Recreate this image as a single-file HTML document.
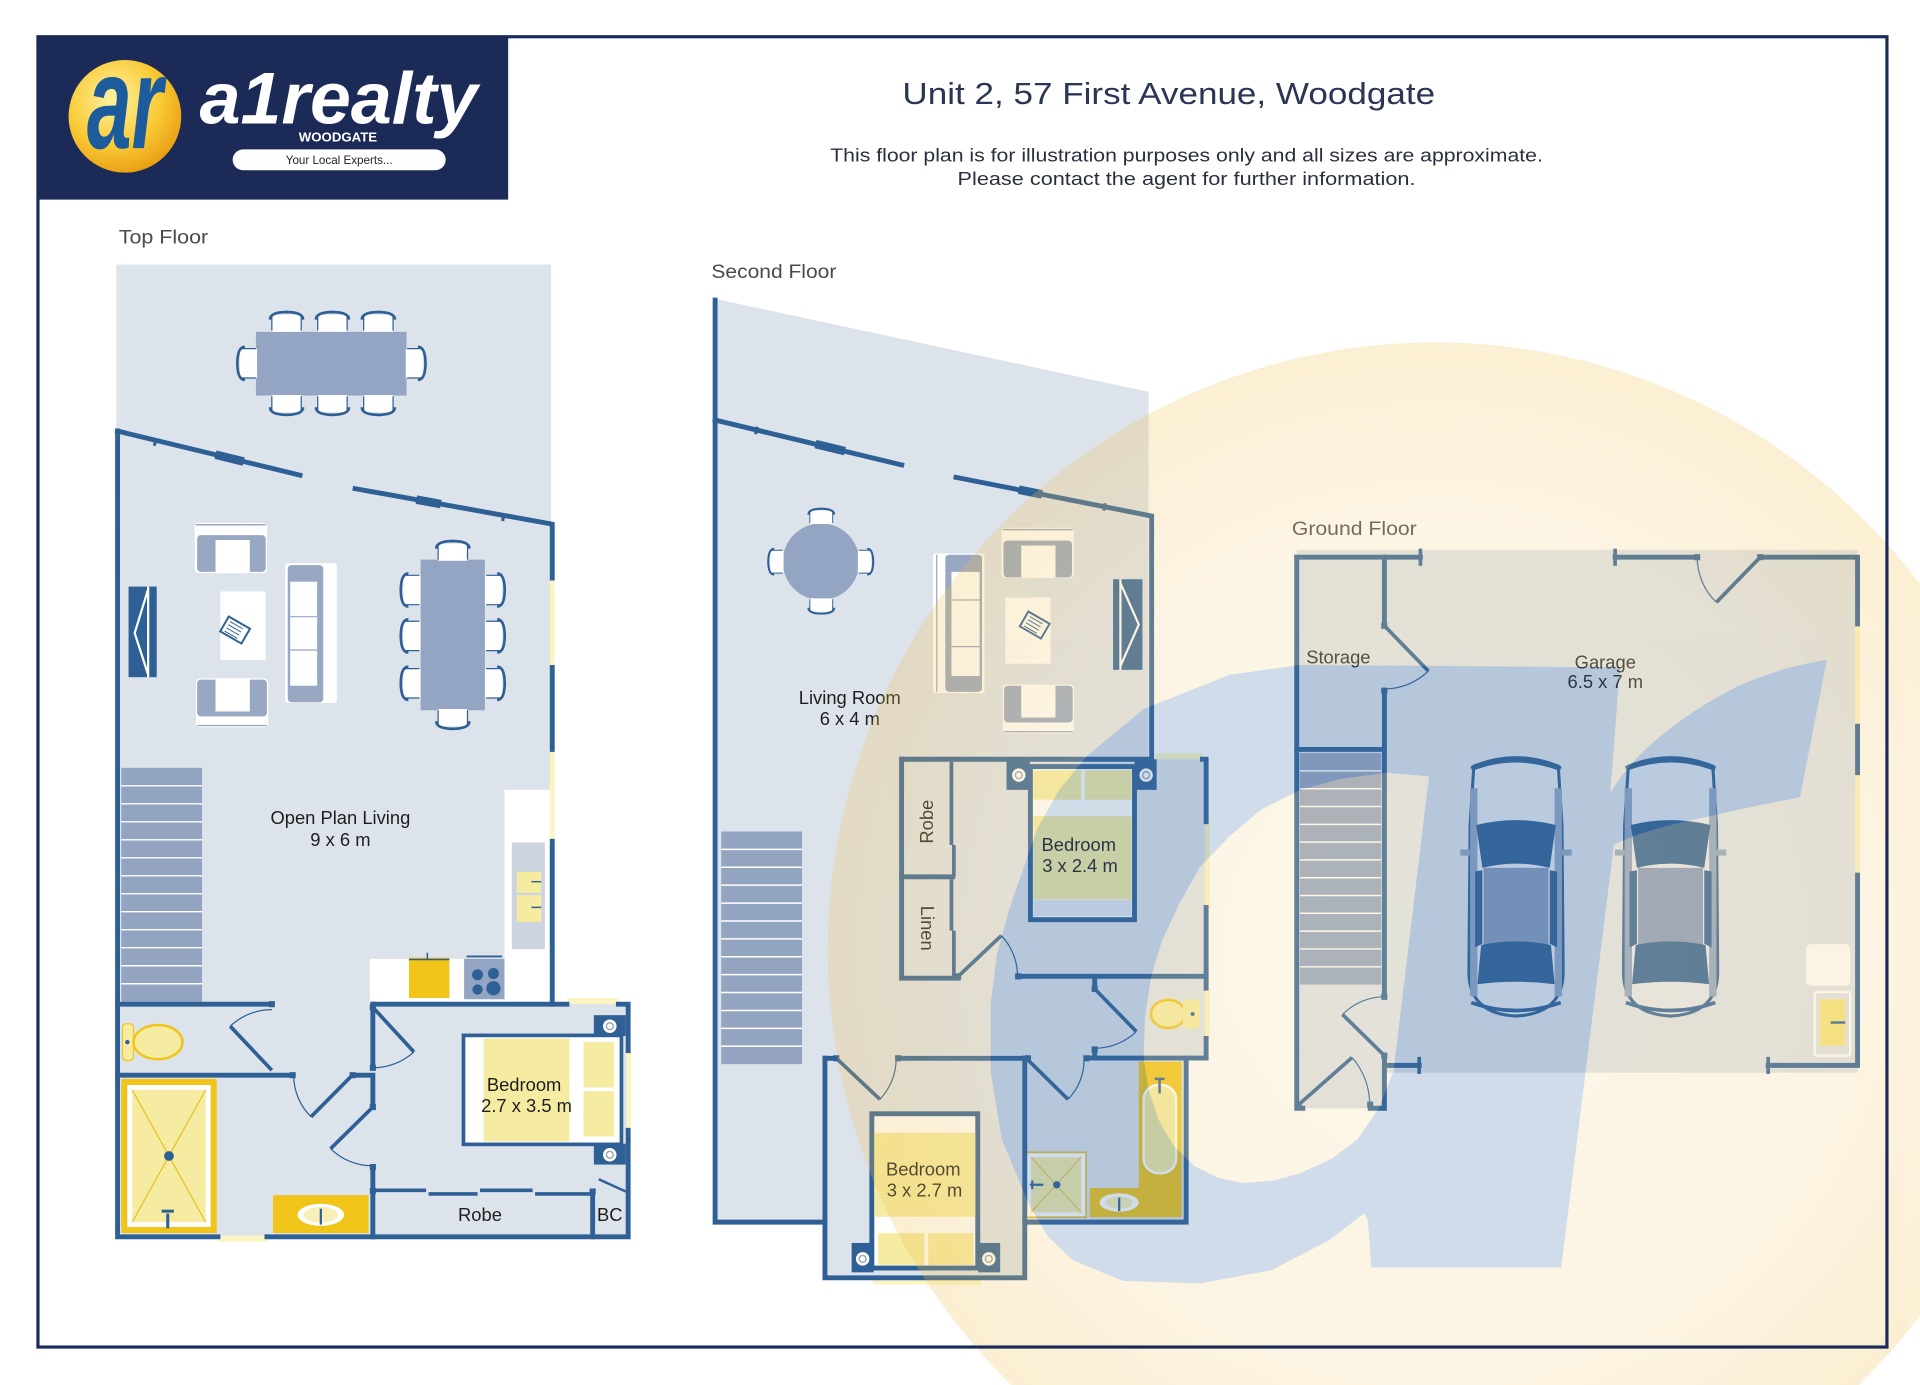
<!DOCTYPE html>
<html><head><meta charset="utf-8"><style>
html,body{margin:0;padding:0;background:#fff;width:1920px;height:1385px;overflow:hidden;}
svg{display:block;position:absolute;left:0;top:0}
text{font-family:"Liberation Sans",sans-serif}
</style></head><body>
<svg width="1920" height="1385" viewBox="0 0 1568 1131" preserveAspectRatio="none" xmlns="http://www.w3.org/2000/svg" overflow="hidden">
<defs>
<clipPath id="pg"><rect x="0" y="0" width="1568" height="1131"/></clipPath>
<radialGradient id="lg" cx="0.4" cy="0.35" r="0.7"><stop offset="0" stop-color="#fff3a0"/><stop offset="0.6" stop-color="#f9c935"/><stop offset="1" stop-color="#e89a10"/></radialGradient>
<radialGradient id="wg" gradientUnits="userSpaceOnUse" cx="1172" cy="776" r="496"><stop offset="0" stop-color="#f8e1aa"/><stop offset="0.7" stop-color="#f6d691"/><stop offset="1" stop-color="#f0be50"/></radialGradient>
<symbol id="ch" viewBox="0 0 30 18">
<rect x="3" y="4" width="24" height="14" fill="#fff"/>
<path d="M1.5,8 Q1.5,2 15,1.8 Q28.5,2 28.5,8" fill="none" stroke="#2e6096" stroke-width="2.2"/>
<path d="M3,4 V17 M27,4 V17" stroke="#2e6096" stroke-width="1"/>
</symbol>
<symbol id="car" viewBox="-6 -2 93 220">
<path d="M6,12 Q40.5,-2 75,12 L78,60 L79,180 Q79,214 40.5,216 Q2,214 2,180 L3,60 Z" fill="#e3e8f0" stroke="#2e6096" stroke-width="2.5"/>
<rect x="3" y="30" width="6" height="170" fill="#8ea3c3"/>
<rect x="72" y="30" width="6" height="170" fill="#8ea3c3"/>
<path d="M4,14 Q40.5,0 77,14" fill="none" stroke="#2e6096" stroke-width="4"/>
<path d="M8,60 Q40.5,52 73,60 L68,95 Q40.5,88 13,95 Z" fill="#2e6096"/>
<rect x="14" y="95" width="53" height="64" fill="#8499bd"/>
<path d="M12,158 Q40.5,152 69,158 L72,190 Q40.5,186 9,190 Z" fill="#2e6096"/>
<path d="M7,98 L13,97 L13,157 L7,160 Z M74,98 L68,97 L68,157 L74,160 Z" fill="#2e6096"/>
<rect x="-5" y="80" width="8" height="5" fill="#8ea3c3"/>
<rect x="78" y="80" width="8" height="5" fill="#8ea3c3"/>
<path d="M4,205 Q40.5,218 77,205" fill="none" stroke="#2e6096" stroke-width="3"/>
</symbol>
</defs>

<rect x="0" y="0" width="1568" height="1131" fill="#fff"/>

<!-- Header -->
<rect x="30" y="29" width="385" height="134" fill="#1b2a57"/>
<circle cx="102" cy="95" r="46" fill="url(#lg)"/>
<text x="102" y="121" font-size="108" font-weight="bold" font-style="italic" fill="#1c5b9c" text-anchor="middle" textLength="62" lengthAdjust="spacingAndGlyphs">ar</text>
<text x="163" y="101" font-size="60" font-weight="bold" font-style="italic" fill="#fff" textLength="227" lengthAdjust="spacingAndGlyphs">a1realty</text>
<text x="276" y="115.5" font-size="10.5" font-weight="bold" fill="#fff" text-anchor="middle" textLength="64" lengthAdjust="spacingAndGlyphs">WOODGATE</text>
<rect x="190" y="122" width="174" height="17" rx="8.5" fill="#fff"/>
<text x="277" y="134" font-size="9.5" fill="#222" text-anchor="middle">Your Local Experts...</text>

<text x="737" y="85" font-size="25" fill="#2a3654" textLength="435" lengthAdjust="spacingAndGlyphs">Unit 2, 57 First Avenue, Woodgate</text>
<text x="678" y="132" font-size="15" fill="#2a2f3f" textLength="582" lengthAdjust="spacingAndGlyphs">This floor plan is for illustration purposes only and all sizes are approximate.</text>
<text x="782" y="151" font-size="15" fill="#2a2f3f" textLength="374" lengthAdjust="spacingAndGlyphs">Please contact the agent for further information.</text>

<text x="97" y="199" font-size="15.5" fill="#4a4a4a" textLength="73" lengthAdjust="spacingAndGlyphs">Top Floor</text>
<text x="581" y="227" font-size="15.5" fill="#4a4a4a" textLength="102" lengthAdjust="spacingAndGlyphs">Second Floor</text>
<text x="1055" y="437" font-size="15.5" fill="#4a4a4a" textLength="102" lengthAdjust="spacingAndGlyphs">Ground Floor</text>

<!-- ================= TOP FLOOR ================= -->
<path d="M95,216 H450 V820 H513 V1012 H95 Z" fill="#dde3eb"/>
<rect x="209" y="271" width="123" height="52" fill="#93a5c2"/>
<use href="#ch" x="219" y="253" width="30" height="18"/>
<use href="#ch" x="256.5" y="253" width="30" height="18"/>
<use href="#ch" x="294" y="253" width="30" height="18"/>
<use href="#ch" x="219" y="322.6" width="30" height="18" transform="rotate(180 234 331.6)"/>
<use href="#ch" x="256.5" y="322.6" width="30" height="18" transform="rotate(180 271.5 331.6)"/>
<use href="#ch" x="294" y="322.6" width="30" height="18" transform="rotate(180 309 331.6)"/>
<use href="#ch" x="186" y="287.7" width="30" height="18" transform="rotate(-90 201 296.7)"/>
<use href="#ch" x="325.3" y="287.7" width="30" height="18" transform="rotate(90 340.3 296.7)"/>
<rect x="343.5" y="457" width="52.5" height="123" fill="#93a5c2"/>
<use href="#ch" x="319.5" y="472.8" width="30" height="18" transform="rotate(-90 334.5 481.8)"/>
<use href="#ch" x="319.5" y="510.3" width="30" height="18" transform="rotate(-90 334.5 519.3)"/>
<use href="#ch" x="319.5" y="549" width="30" height="18" transform="rotate(-90 334.5 558)"/>
<use href="#ch" x="390" y="472.8" width="30" height="18" transform="rotate(90 405 481.8)"/>
<use href="#ch" x="390" y="510.3" width="30" height="18" transform="rotate(90 405 519.3)"/>
<use href="#ch" x="390" y="549" width="30" height="18" transform="rotate(90 405 558)"/>
<use href="#ch" x="354.8" y="440" width="30" height="18"/>
<use href="#ch" x="354.8" y="579" width="30" height="18" transform="rotate(180 369.8 588)"/>
<rect x="159" y="427" width="59" height="41" rx="3" fill="#fff"/>
<rect x="161" y="437" width="56" height="30" rx="3" fill="#98a7c2"/>
<rect x="176" y="441" width="28" height="27" fill="#fff"/>
<line x1="160" y1="428.5" x2="217" y2="428.5" stroke="#98a7c2" stroke-width="1.2"/>
<rect x="160" y="554" width="59" height="40" rx="3" fill="#fff"/>
<rect x="161" y="555" width="57" height="30" rx="3" fill="#98a7c2"/>
<rect x="176" y="554" width="28" height="27" fill="#fff"/>
<line x1="161" y1="592.5" x2="218" y2="592.5" stroke="#98a7c2" stroke-width="1.2"/>
<rect x="180" y="483" width="37" height="56" fill="#fff"/>
<g transform="translate(192,514.5) rotate(30)"><rect x="-10" y="-7" width="20" height="14" fill="#fff" stroke="#2e6096" stroke-width="1.6"/><path d="M-7,-4 H5 M-7,-1 H5 M-7,2 H5 M-7,5 H5" stroke="#2e6096" stroke-width="0.8"/></g>
<rect x="233" y="460" width="42" height="114" rx="2" fill="#fff"/>
<rect x="235" y="461.5" width="29" height="112" rx="3" fill="#98a7c2"/>
<rect x="237" y="475" width="22" height="85" fill="#fff"/>
<path d="M237,503.6 H259 M237,530.8 H259" stroke="#98a7c2" stroke-width="1"/>
<rect x="105" y="479" width="23" height="74" fill="#2e6096"/>
<path d="M121,479 V553 M121,481 L110,517 L121,551" stroke="#fff" stroke-width="1.8" fill="none"/>
<rect x="99" y="627" width="66" height="191" fill="#93a4c1"/>
<path d="M99,641.7 H165 M99,656.4 H165 M99,671.1 H165 M99,685.8 H165 M99,700.5 H165 M99,715.2 H165 M99,729.8 H165 M99,744.5 H165 M99,759.2 H165 M99,773.9 H165 M99,788.6 H165 M99,803.3 H165" stroke="#fff" stroke-width="1.2"/>
<rect x="412" y="645" width="37" height="174" fill="#fff"/>
<rect x="302" y="783" width="147" height="36" fill="#fff"/>
<rect x="418" y="688" width="27" height="87" fill="#ccd4df"/>
<rect x="422" y="712" width="20" height="17" fill="#f5eca2"/>
<rect x="422" y="731" width="20" height="22" fill="#f5eca2"/>
<path d="M434,720 H442 M434,741 H442" stroke="#2e6096" stroke-width="1.2"/>
<rect x="334" y="782" width="33" height="33" fill="#f0c419"/>
<path d="M334,783.5 H367 M349,778 V783" stroke="#2e6096" stroke-width="1.2"/>
<rect x="379" y="783" width="33" height="33" fill="#93a5c2"/>
<path d="M381,781 H410" stroke="#2e6096" stroke-width="1.5"/>
<circle cx="390" cy="796" r="4.5" fill="#2e6096"/><circle cx="403" cy="795" r="4.5" fill="#2e6096"/>
<circle cx="390" cy="808" r="4.2" fill="#2e6096"/><circle cx="403" cy="807" r="5.8" fill="#2e6096"/>
<rect x="100" y="836" width="9" height="30" rx="3" fill="#f5eca2" stroke="#f0c419" stroke-width="1"/>
<ellipse cx="129" cy="851" rx="20" ry="14" fill="#f5eca2" stroke="#f0c419" stroke-width="2"/>
<circle cx="104" cy="851" r="1.8" fill="#2e6096"/>
<rect x="99" y="881" width="78" height="126" fill="#f0c419"/>
<rect x="104" y="886" width="68" height="116" fill="#fff"/>
<rect x="108" y="890" width="60" height="108" fill="#f5eca2"/>
<path d="M108,890 L168,998 M168,890 L108,998" stroke="#e8c020" stroke-width="1"/>
<circle cx="138" cy="944" r="4" fill="#2e6096"/>
<path d="M137,991 V1003 M132,989 H142" stroke="#2e6096" stroke-width="2.5"/>
<rect x="223" y="976" width="78" height="31" fill="#f0c419"/>
<ellipse cx="262" cy="992" rx="19" ry="9" fill="#fff"/>
<ellipse cx="262" cy="992" rx="14" ry="6.5" fill="#f7efb5"/>
<path d="M262,987 V1000" stroke="#2e6096" stroke-width="1.8"/>
<rect x="378.5" y="845.5" width="129" height="89" fill="#fff" stroke="#2e6096" stroke-width="3"/>
<rect x="395" y="848" width="70" height="84" fill="#f5eca2"/>
<rect x="476.5" y="851" width="25" height="37" fill="#f5eca2"/>
<rect x="476.5" y="891" width="25" height="37" fill="#f5eca2"/>
<rect x="485" y="829" width="26" height="17" fill="#2e6096"/>
<rect x="485" y="934" width="26" height="17" fill="#2e6096"/>
<circle cx="498" cy="838" r="5.5" fill="#fff"/><circle cx="498" cy="838" r="2.8" fill="none" stroke="#9aa6b8" stroke-width="1.2"/>
<circle cx="498" cy="943" r="5.5" fill="#fff"/><circle cx="498" cy="943" r="2.8" fill="none" stroke="#9aa6b8" stroke-width="1.2"/>
<g fill="#fbf5c4">
<rect x="94" y="371" width="4" height="33"/><rect x="94" y="432" width="4" height="34"/>
<rect x="449" y="472" width="4" height="73"/><rect x="449" y="612" width="4" height="75"/>
<rect x="463" y="815" width="42" height="5"/><rect x="511.5" y="858" width="4" height="65"/>
<rect x="178" y="1009" width="40" height="5"/>
</g>
<g stroke="#2e6096" stroke-width="4" fill="none" stroke-linecap="square">
<path d="M96,352 V1010 H178"/>
<path d="M218,1010 H513 V923"/>
<path d="M513,858 V820 H505"/>
<path d="M463,820 H304.5"/>
<path d="M96,352 L245,388"/>
<path d="M290,399 L451,428 V472"/>
<path d="M451,545 V612"/>
<path d="M451,687 V820"/>
<path d="M96,820 H222"/>
<path d="M96,878 H239"/>
<path d="M288,878 H304.5 V904"/>
<path d="M304.5,820 V872"/>
<path d="M304.5,953 V1010"/>
<path d="M484,973 V1010"/>
</g>
<g stroke="#2e6096" stroke-width="3" fill="none">
<path d="M304.5,972 H348 M350,975 H390 M392,972 H435 M437,975 H484"/>
<path d="M489,963 L511,973" stroke-width="2"/>
</g>
<path d="M176,371.3 L199,376.9 M340,408 L360,411.6" stroke="#2e6096" stroke-width="7"/>
<path d="M127.5,358 l-1.5,6 M411.5,419.5 l-1,6" stroke="#2e6096" stroke-width="2.5"/>
<g fill="#2e6096">
<rect x="219.5" y="817.5" width="5" height="5"/><rect x="236.5" y="875.5" width="5" height="5"/><rect x="285.5" y="875.5" width="5" height="5"/>
<rect x="302" y="820" width="5" height="5"/><rect x="302" y="869.5" width="5" height="5"/><rect x="302" y="901.5" width="5" height="5"/><rect x="302" y="950.5" width="5" height="5"/>
<rect x="481.5" y="970.5" width="5" height="5"/><rect x="302" y="970" width="5" height="5"/>
</g>
<g stroke="#2e6096" fill="none">
<path d="M222,874 L188,838" stroke-width="3"/><path d="M188,838 A49.5,49.5 0 0 1 222,824.5" stroke-width="1"/>
<path d="M287.7,878 L254,912" stroke-width="3"/><path d="M254,912 A47.9,47.9 0 0 1 239.8,878" stroke-width="1"/>
<path d="M304.5,822.6 L338,859" stroke-width="3"/><path d="M338,859 A49.5,49.5 0 0 1 304.5,872" stroke-width="1"/>
<path d="M304.5,904 L270,938" stroke-width="3"/><path d="M270,938 A48.3,48.3 0 0 0 304.5,952" stroke-width="1"/>
</g>
<g font-size="15" fill="#1e1e1e" text-anchor="middle">
<text x="278" y="673">Open Plan Living</text>
<text x="278" y="691">9 x 6 m</text>
<text x="428" y="891">Bedroom</text>
<text x="430" y="908">2.7 x 3.5 m</text>
<text x="392" y="997">Robe</text>
<text x="498" y="997">BC</text>
</g>

<!-- ================= SECOND FLOOR ================= -->
<path d="M584,244 L938,320 V620 H986 V864 H969 V999 H837 V1044 H674 V999 H584 Z" fill="#dde3eb"/>
<circle cx="670.5" cy="458.7" r="31.3" fill="#93a5c2"/>
<use href="#ch" x="658.7" y="414" width="24" height="14"/>
<use href="#ch" x="658.7" y="488.5" width="24" height="14" transform="rotate(180 670.7 495.5)"/>
<use href="#ch" x="621" y="451.7" width="24" height="14" transform="rotate(-90 633 458.7)"/>
<use href="#ch" x="695.5" y="451.7" width="24" height="14" transform="rotate(90 707.5 458.7)"/>
<rect x="762" y="452" width="42" height="114" rx="2" fill="#fff"/>
<rect x="772" y="453" width="30" height="112" rx="3" fill="#98a7c2"/>
<rect x="777" y="467" width="23" height="85" fill="#fff"/>
<path d="M777,490 H800 M777,528 H800" stroke="#98a7c2" stroke-width="1"/>
<line x1="765" y1="453" x2="765" y2="565" stroke="#98a7c2" stroke-width="1"/>
<rect x="818" y="431" width="59" height="41" rx="3" fill="#fff"/>
<rect x="819.5" y="441.5" width="56" height="30" rx="3" fill="#98a7c2"/>
<rect x="834" y="445.5" width="28" height="26.5" fill="#fff"/>
<line x1="819" y1="432.5" x2="876" y2="432.5" stroke="#98a7c2" stroke-width="1.2"/>
<rect x="819" y="559" width="58" height="40" rx="3" fill="#fff"/>
<rect x="820" y="560" width="56" height="30" rx="3" fill="#98a7c2"/>
<rect x="834" y="559" width="28" height="27" fill="#fff"/>
<line x1="820" y1="597.5" x2="876" y2="597.5" stroke="#98a7c2" stroke-width="1.2"/>
<rect x="821" y="488" width="37" height="54" fill="#fff"/>
<g transform="translate(845,510.4) rotate(30)"><rect x="-10" y="-7" width="20" height="14" fill="#fff" stroke="#2e6096" stroke-width="1.6"/><path d="M-7,-4 H5 M-7,-1 H5 M-7,2 H5 M-7,5 H5" stroke="#2e6096" stroke-width="0.8"/></g>
<rect x="909" y="473" width="24" height="74" fill="#2e6096"/>
<path d="M915,473 V547 M915,476 L930,510 L915,544" stroke="#fff" stroke-width="1.8" fill="none"/>
<rect x="589" y="679" width="66" height="190" fill="#93a4c1"/>
<path d="M589,693.6 H655 M589,708.2 H655 M589,722.8 H655 M589,737.5 H655 M589,752.1 H655 M589,766.7 H655 M589,781.3 H655 M589,795.9 H655 M589,810.5 H655 M589,825.2 H655 M589,839.8 H655 M589,854.4 H655" stroke="#fff" stroke-width="1.2"/>
<rect x="822" y="620" width="19" height="25" fill="#2e6096"/>
<rect x="926.6" y="620" width="18" height="25" fill="#2e6096"/>
<circle cx="832" cy="633" r="5.5" fill="#fff"/><circle cx="832" cy="633" r="2.8" fill="none" stroke="#9aa6b8" stroke-width="1.2"/>
<circle cx="936" cy="633" r="5.5" fill="#fff"/><circle cx="936" cy="633" r="2.8" fill="none" stroke="#9aa6b8" stroke-width="1.2"/>
<rect x="841.5" y="626" width="85" height="125" fill="#fff" stroke="#2e6096" stroke-width="4"/>
<rect x="844" y="629" width="39" height="24" fill="#f5eca2"/>
<rect x="886" y="629" width="38" height="24" fill="#f5eca2"/>
<rect x="844" y="666.5" width="80" height="68" fill="#f5eca2"/>
<rect x="844" y="735" width="80" height="13" fill="#e4e8ef"/>
<rect x="695.5" y="1015" width="18" height="24" fill="#2e6096"/>
<rect x="798.8" y="1015" width="18" height="24" fill="#2e6096"/>
<circle cx="704.5" cy="1028" r="5.5" fill="#fff"/><circle cx="704.5" cy="1028" r="2.8" fill="none" stroke="#9aa6b8" stroke-width="1.2"/>
<circle cx="807.5" cy="1028" r="5.5" fill="#fff"/><circle cx="807.5" cy="1028" r="2.8" fill="none" stroke="#9aa6b8" stroke-width="1.2"/>
<rect x="712" y="909.5" width="86.5" height="126" fill="#fff" stroke="#2e6096" stroke-width="4"/>
<rect x="714" y="925" width="82.5" height="68.6" fill="#f5eca2"/>
<rect x="717" y="1007" width="38" height="26" fill="#f5eca2"/>
<rect x="758" y="1007" width="37" height="26" fill="#f5eca2"/>
<rect x="930" y="867" width="35" height="111" fill="#f0c419"/>
<rect x="934" y="886" width="26.5" height="72" rx="12" fill="#f3ea9e" stroke="#fff" stroke-width="2"/>
<path d="M947,881 V893 M943,881 H951" stroke="#2e6096" stroke-width="2"/>
<rect x="890" y="970" width="75" height="24" fill="#f0c419"/>
<ellipse cx="914" cy="982" rx="16" ry="7.5" fill="#fff"/>
<ellipse cx="914" cy="982" rx="11" ry="5" fill="#f7efb5"/>
<path d="M914,978 V989" stroke="#2e6096" stroke-width="1.8"/>
<rect x="838" y="941" width="49" height="53" fill="#fff" stroke="#e0c040" stroke-width="1.5"/>
<rect x="842" y="945" width="41" height="45" fill="#f2eaa8"/>
<path d="M842,945 L883,990 M883,945 L842,990" stroke="#e0c040" stroke-width="0.8"/>
<circle cx="863" cy="967.5" r="3" fill="#2e6096"/>
<path d="M841,967.5 H852 M843,964 V971" stroke="#2e6096" stroke-width="1.8"/>
<ellipse cx="954" cy="828" rx="14" ry="11.5" fill="#f5eca2" stroke="#f0c419" stroke-width="2"/>
<rect x="966" y="816" width="14" height="24" rx="3" fill="#f5eca2"/>
<circle cx="974" cy="828" r="1.6" fill="#2e6096"/>
<g fill="#fbf5c4">
<rect x="582" y="391" width="4" height="34"/><rect x="582" y="452" width="4" height="34"/><rect x="582" y="514.5" width="4" height="33"/>
<rect x="944" y="615" width="38" height="5"/>
<rect x="984" y="671" width="4" height="70"/><rect x="984" y="807" width="4" height="41"/>
<rect x="713" y="1045" width="88" height="4"/>
</g>
<g stroke="#2e6096" stroke-width="4" fill="none" stroke-linecap="square">
<path d="M584,245 V998 H673.7"/>
<path d="M584,343 L736.4,379.7"/>
<path d="M780.7,389.8 L940.5,421.4 V620"/>
<path d="M736.3,620 H940.5"/>
<path d="M982,620 H985 V671"/>
<path d="M985,741 V807"/>
<path d="M985,848 V864 H887.2"/>
<path d="M736.3,620 V798.8 H782.5"/>
<path d="M736.3,716 H778"/>
<path d="M831.5,797.3 H985"/>
<path d="M894,797.3 V807.5"/>
<path d="M894,857 V864"/>
<path d="M673.7,864.2 H683"/>
<path d="M733.5,864.2 H839.6"/>
<path d="M673.7,864 V1043.5 H836.9 V864"/>
<path d="M836.9,998 H968.7 V864"/>
</g>
<path d="M777,622 V690 M779,690 V716 M777,718 V760 M779,760 V797" stroke="#2e6096" stroke-width="3" fill="none"/>
<path d="M666,362.6 L690,368.4 M832,399.9 L851,403.7" stroke="#2e6096" stroke-width="7"/>
<path d="M618.5,348.5 l-1.5,6 M902.5,411 l-1,6" stroke="#2e6096" stroke-width="2.5"/>
<g fill="#2e6096">
<rect x="780" y="794.8" width="5" height="5"/><rect x="829" y="794.8" width="5" height="5"/>
<rect x="891.5" y="805" width="5" height="5"/><rect x="891.5" y="854.5" width="5" height="5"/>
<rect x="680.5" y="861.7" width="5" height="5"/><rect x="731" y="861.7" width="5" height="5"/>
<rect x="837" y="861.7" width="5" height="5"/><rect x="884.7" y="861.7" width="5" height="5"/>
</g>
<g stroke="#2e6096" fill="none">
<path d="M782.5,797.3 L817.8,764" stroke-width="3"/><path d="M817.8,764 A48.5,48.5 0 0 1 831,797.3" stroke-width="1"/>
<path d="M894,807.5 L928,842.4" stroke-width="3"/><path d="M928,842.4 A48.7,48.7 0 0 1 894,856" stroke-width="1"/>
<path d="M683,864.2 L718.6,897.7" stroke-width="3"/><path d="M718.6,897.7 A48.9,48.9 0 0 0 731.9,864.2" stroke-width="1"/>
<path d="M839.6,865.7 L872.2,897.7" stroke-width="3"/><path d="M872.2,897.7 A45.7,45.7 0 0 0 885.3,865.7" stroke-width="1"/>
</g>
<g font-size="15" fill="#1e1e1e" text-anchor="middle">
<text x="694" y="575">Living Room</text>
<text x="694" y="592">6 x 4 m</text>
<text x="881" y="695">Bedroom</text>
<text x="882" y="712">3 x 2.4 m</text>
<text x="754" y="960">Bedroom</text>
<text x="755" y="977">3 x 2.7 m</text>
<text transform="translate(757,671) rotate(-90)" y="5">Robe</text>
<text transform="translate(757,758) rotate(90)" y="5">Linen</text>
</g>

<!-- ================= GROUND FLOOR ================= -->
<path d="M1059,449 H1517 V876 H1131 V905 H1059 Z" fill="#dde3eb"/>
<rect x="1061.5" y="615" width="66.5" height="189" fill="#93a4c1"/>
<path d="M1061.5,629.5 H1128 M1061.5,644.1 H1128 M1061.5,658.6 H1128 M1061.5,673.2 H1128 M1061.5,687.7 H1128 M1061.5,702.2 H1128 M1061.5,716.8 H1128 M1061.5,731.3 H1128 M1061.5,745.8 H1128 M1061.5,760.4 H1128 M1061.5,774.9 H1128 M1061.5,789.5 H1128" stroke="#fff" stroke-width="1.2"/>
<use href="#car" x="1191.6" y="611.7" width="93" height="220"/>
<use href="#car" x="1317.8" y="611.7" width="93" height="220"/>
<rect x="1475" y="771" width="36" height="34" rx="4" fill="#fff"/>
<rect x="1482" y="810" width="29" height="52" rx="2" fill="none" stroke="#fff" stroke-width="2"/>
<rect x="1486" y="816" width="21" height="38" fill="#f5e580"/>
<path d="M1495,835 H1507" stroke="#2e6096" stroke-width="2"/>
<g fill="#fbf5c4">
<rect x="1515" y="509.5" width="4" height="83.5"/><rect x="1515" y="631" width="4" height="83.6"/>
</g>
<g stroke="#2e6096" stroke-width="4" fill="none" stroke-linecap="square">
<path d="M1059,455 V905 H1064"/>
<path d="M1059,455 H1160"/>
<path d="M1319,455 H1386"/>
<path d="M1437.5,455 H1517 V509.5"/>
<path d="M1517,593 V631"/>
<path d="M1517,714.6 V870 H1444"/>
<path d="M1130.6,870 H1159"/>
<path d="M1130.6,455 V511"/>
<path d="M1130.6,564 V814"/>
<path d="M1130.6,862 V905 H1119"/>
<path d="M1059,612 H1130.6"/>
</g>
<path d="M1160,448 V462 M1319,448 V462 M1444,863 V877 M1159,863 V877" stroke="#2e6096" stroke-width="3"/>
<g fill="#2e6096">
<rect x="1128" y="508.5" width="5" height="5"/><rect x="1128" y="561.5" width="5" height="5"/>
<rect x="1128" y="811.5" width="5" height="5"/><rect x="1128" y="859.5" width="5" height="5"/>
<rect x="1435" y="452.5" width="5" height="5"/><rect x="1383.5" y="452.5" width="5" height="5"/>
<rect x="1058" y="899.5" width="5" height="5"/><rect x="1116.5" y="899.5" width="5" height="5"/>
</g>
<g stroke="#2e6096" fill="none">
<path d="M1437.5,455 L1401.7,491.9" stroke-width="3"/><path d="M1401.7,491.9 A51.4,51.4 0 0 1 1386,455" stroke-width="1"/>
<path d="M1130.6,511 L1166.5,548" stroke-width="3"/><path d="M1166.5,548 A51.6,51.6 0 0 1 1130.6,562.6" stroke-width="1"/>
<path d="M1130.6,862 L1096.4,828.4" stroke-width="3"/><path d="M1096.4,828.4 A48,48 0 0 1 1130.6,814" stroke-width="1"/>
<path d="M1060.6,902 L1104.2,863.6" stroke-width="3"/><path d="M1104.2,863.6 A58,58 0 0 1 1118.6,902" stroke-width="1"/>
</g>
<g font-size="15" fill="#1e1e1e" text-anchor="middle">
<text x="1093" y="542">Storage</text>
<text x="1311" y="546">Garage</text>
<text x="1311" y="562">6.5 x 7 m</text>
</g>

<!-- ================= WATERMARK ================= -->
<g clip-path="url(#pg)">
<g opacity="0.25">
<path d="M826,1131 A496,496 0 1 1 1518,1131 Z" fill="url(#wg)"/>
<path fill="#4678b0" fill-rule="evenodd" d="M1062,543 L1323,545 L1315,648 C1335,612 1380,580 1420,560 C1445,549 1470,542 1492,539 L1470,651 C1440,657 1415,662 1394,667 C1360,674 1335,681 1318,690 L1275,1035 L1120,1035 L1117,996 L1114,991 L1085,1013 L1039,1037 L981,1048 L917,1046 L876,1029 L856,1010 L841,985 L818,930 L809,875 L809,820 L814,780 L824,743 L847,677 L865,645 L888,617 L934,579 L1004,551 Z
M1132,631 L1095,636 L1062,645 L1030,661 L1004,683 L980,708 L963,738 L949,768 L940,798 L935,831 L934,864 L938,890 L946,914 L958,935 L975,952 L995,962 L1015,966 L1040,964 L1062,958 L1088,946 L1109,930 L1126,905 L1138,875 L1167,634 Z"/>
</g>
</g>

<rect x="31" y="30" width="1510" height="1070" fill="none" stroke="#1b2a57" stroke-width="2.6"/>
</svg>
</body></html>
